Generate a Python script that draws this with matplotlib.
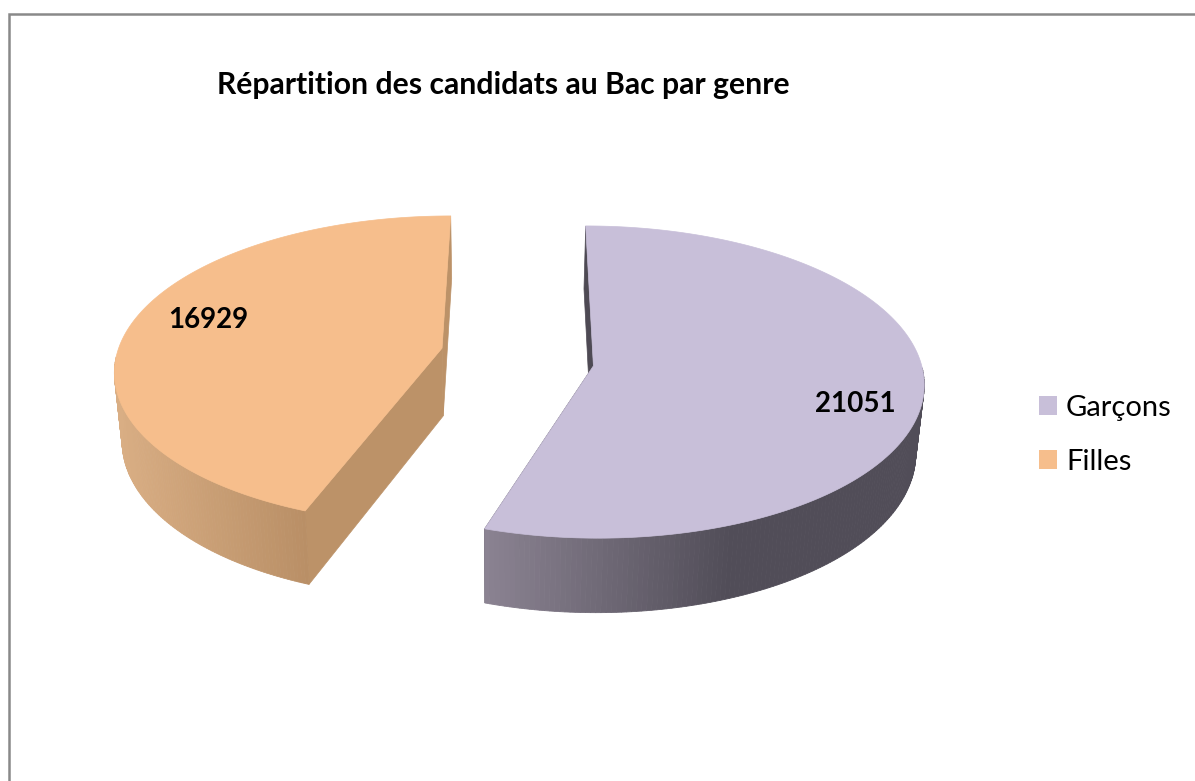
import numpy as np
import matplotlib
matplotlib.use('Agg')
import matplotlib.pyplot as plt
from matplotlib.patches import Patch

# Donnees
genres = ['Garçons', 'Filles']
candidats = [21051, 16929]
titre = 'Répartition des candidats au Bac par genre'

couleurs = ['#C8BFD9', '#F6BE8C']
mur_clair = ['#8B8392', '#D9AE84']
mur_sombre = ['#514D58', '#B98F66']
mur_face = ['#4E4A54', '#BC9268']
x_sombre = [730, 305]       # ou le degrade du mur atteint le ton sombre
x_clair = [485, 115]

# retouches de dessin (degres sur les bords, pixels sur le sommet)
retouche_debut = [0.0, -2.5]
retouche_fin = [1.2, 0.0]
sommet_dx = [2.0, -3.0]
sommet_dy = [-3.0, -9.0]

plt.rcParams['font.family'] = ['Lato', 'DejaVu Sans']

# perspective
a = 330.0
b = 154.0
k = 0.084
xv = 518.0
yv = 363.0
explosion = 0.225
prof = 68.0
xd = 500.0
sd = 0.98


def projette(u, v):
    w = 1 + k * v
    return xv + a * u / w, yv - b * v / w


def bas(px, py, v):
    w = 1 + k * v
    return xd + (px - xd) * sd, py + prof / w


def melange(c1, c2, t):
    r1 = np.array(matplotlib.colors.to_rgb(c1))
    r2 = np.array(matplotlib.colors.to_rgb(c2))
    return r1 + (r2 - r1) * t


fig = plt.figure(figsize=(11.95, 7.81), dpi=100)
ax = fig.add_axes([0, 0, 1, 1])
ax.set_xlim(0, 1195)
ax.set_ylim(781, 0)
ax.axis('off')

# cadre
ax.plot([9, 9, 1195], [781, 14, 14], color='#898989', lw=1.8, solid_joinstyle='miter')

angles = np.array(candidats) / sum(candidats) * 360
debut = 90.0
for i in range(len(candidats)):
    fin = debut - angles[i]
    milieu = np.radians((debut + fin) / 2)
    cu = explosion * np.cos(milieu)
    cv = explosion * np.sin(milieu)
    t = np.radians(np.linspace(debut + retouche_debut[i], fin + retouche_fin[i], 240))
    u = cu + np.cos(t)
    v = cv + np.sin(t)
    px, py = projette(u, v)
    qx, qy = bas(px, py, v)
    ax0, ay0 = projette(cu, cv)
    ax0 += sommet_dx[i]
    ay0 += sommet_dy[i]
    bx0, by0 = bas(ax0, ay0, cv)

    # faces laterales (coupes) puis mur exterieur
    ax.fill([px[0], qx[0], bx0, ax0], [py[0], qy[0], by0, ay0],
            color=mur_face[i], lw=0.5)
    ax.fill([px[-1], qx[-1], bx0, ax0], [py[-1], qy[-1], by0, ay0],
            color=mur_face[i], lw=0.5)
    for j in range(len(t) - 1):
        if np.sin(t[j]) + np.sin(t[j + 1]) > 0.0:
            continue
        xm = (px[j] + px[j + 1]) / 2
        tt = np.clip((xm - x_clair[i]) / (x_sombre[i] - x_clair[i]), 0, 1)
        c = melange(mur_clair[i], mur_sombre[i], tt)
        ax.fill([px[j], px[j + 1], qx[j + 1], qx[j]],
                [py[j], py[j + 1], qy[j + 1], qy[j]], color=c, lw=0.6)

    # dessus
    ax.fill(np.r_[ax0, px], np.r_[ay0, py], color=couleurs[i], lw=0.5, zorder=3)
    debut = fin

ax.text(503.5, 85, titre, fontsize=21.7, fontweight='bold', color='black',
        ha='center', va='center', zorder=5)
ax.text(855, 403.5, str(candidats[0]), fontsize=20, fontweight='bold', ha='center', va='center', zorder=5)
ax.text(208, 320.5, str(candidats[1]), fontsize=20, fontweight='bold', ha='center', va='center', zorder=5)

poignees = [Patch(facecolor=couleurs[i], label=genres[i]) for i in range(len(genres))]
ax.legend(handles=poignees, loc='center left', bbox_to_anchor=(1030.5 / 1195, 1 - 435 / 781),
          frameon=False, fontsize=21, handlelength=0.62, handleheight=0.62,
          handletextpad=0.3, labelspacing=0.97, borderpad=0.3, borderaxespad=0)

fig.savefig('out.png', dpi=100)
